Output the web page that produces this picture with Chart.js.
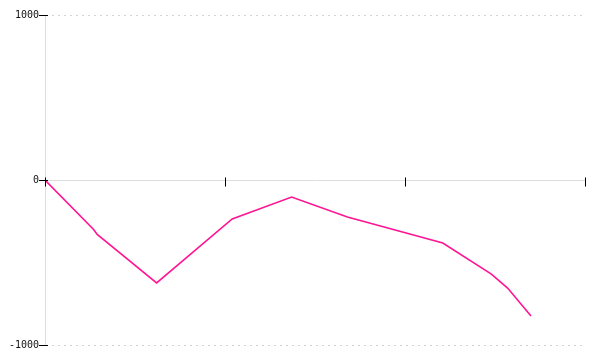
<!DOCTYPE html>
<html>
<head>
<meta charset="utf-8">
<script src="https://cdn.jsdelivr.net/npm/chart.js@4/dist/chart.umd.min.js"></script>
<style>
  html, body { margin: 0; padding: 0; background: #fff; }
  #wrap { width: 600px; height: 360px; }
</style>
</head>
<body>
<div id="wrap"><canvas id="chart" width="600" height="360"></canvas></div>
<script>
// ── DATA ──
const xValues = [0, 27, 29, 62, 104, 137, 168, 221, 248, 257, 270];
const yValues = [0, -300, -330, -624, -236, -103, -224, -382, -570, -655, -824];
const xTicks = [0, 100, 200, 300];
const yTicks = [-1000, 0, 1000];

const points = xValues.map((x, i) => ({ x, y: yValues[i] }));

// black tick marks that cross the axis lines
const crossTicks = {
  id: 'crossTicks',
  afterDraw(chart) {
    const { ctx, scales: { x, y } } = chart;
    const y0 = Math.round(y.getPixelForValue(0)) + 0.5;
    ctx.save();
    ctx.strokeStyle = '#000';
    ctx.lineWidth = 1;
    ctx.beginPath();
    yTicks.forEach(v => {
      const py = Math.round(y.getPixelForValue(v)) + 0.5;
      ctx.moveTo(x.left - 6, py);
      ctx.lineTo(x.left + 3, py);
    });
    xTicks.forEach(v => {
      const px = Math.round(x.getPixelForValue(v)) + 0.5;
      ctx.moveTo(px, y0 - 3);
      ctx.lineTo(px, y0 + 6);
    });
    ctx.stroke();
    ctx.restore();
  }
};

new Chart(document.getElementById('chart').getContext('2d'), {
  type: 'scatter',
  data: {
    datasets: [{
      data: points,
      showLine: true,
      borderColor: '#ff1493',
      backgroundColor: '#ff1493',
      borderWidth: 1.6,
      pointRadius: 0,
      tension: 0
    }]
  },
  options: {
    responsive: false,
    animation: false,
    layout: { padding: { top: 15, right: 15, bottom: 15, left: 0 } },
    plugins: { legend: { display: false }, tooltip: { enabled: false } },
    scales: {
      x: {
        type: 'linear',
        display: false,
        min: 0,
        max: 300
      },
      y: {
        type: 'linear',
        min: -1000,
        max: 1000,
        afterFit: s => { s.width = 45; },
        afterBuildTicks: s => { s.ticks = yTicks.map(v => ({ value: v })); },
        ticks: {
          padding: 6,
          color: '#111',
          font: { family: 'DejaVu Sans Mono', size: 10 },
          callback: v => String(v)
        },
        grid: {
          drawTicks: false,
          color: c => c.tick && c.tick.value === 0 ? '#dddddd' : '#d4d4d4',
          lineWidth: 1
        },
        border: {
          display: true,
          color: '#dddddd',
          dash: c => (c.type === 'tick' && c.tick.value !== 0) ? [2, 4] : []
        }
      }
    }
  },
  plugins: [crossTicks]
});
</script>
</body>
</html>
